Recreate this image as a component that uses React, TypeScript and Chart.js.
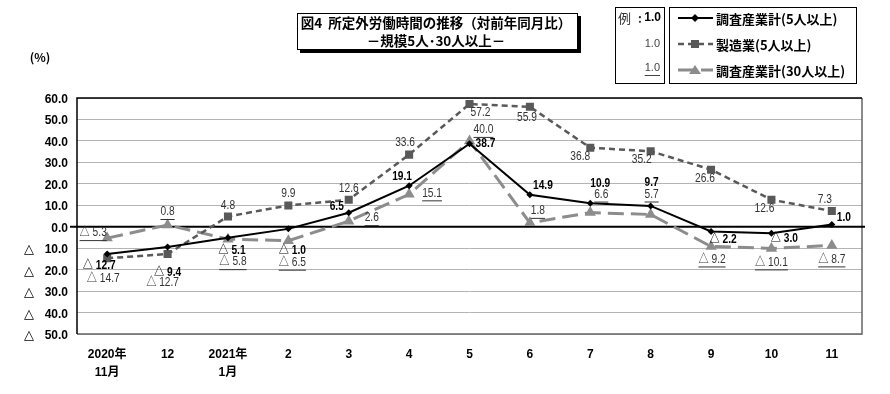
import React, { useEffect, useRef } from 'react';
import { Chart, registerables } from 'chart.js';

Chart.register(...registerables);

const categories: (string | string[])[] = [['2020年', '11月'], '12', ['2021年', '1月'], '2', '3', '4', '5', '6', '7', '8', '9', '10', '11'];
const totalOver5 = [-12.7, -9.4, -5.1, -1.0, 6.5, 19.1, 38.7, 14.9, 10.9, 9.7, -2.2, -3.0, 1.0];
const manufacturing = [-14.7, -12.7, 4.8, 9.9, 12.6, 33.6, 57.2, 55.9, 36.8, 35.2, 26.6, 12.6, 7.3];
const totalOver30 = [-5.3, 0.8, -5.8, -6.5, 2.6, 15.1, 40.0, 1.8, 6.6, 5.7, -9.2, -10.1, -8.7];
const seriesNames = ['調査産業計(5人以上)', '製造業(5人以上)', '調査産業計(30人以上)'];
const yTickValues = [60, 50, 40, 30, 20, 10, 0, -10, -20, -30, -40, -50];
const yMin = -50;
const yMax = 60;
const yStep = 10;
const titleLines = ['図4  所定外労働時間の推移（対前年同月比）', '－規模5人･30人以上－'];
const unitLabel = '(%)';

// label offsets (pixels) from each point, [dx, dy]
const offsets1 = [[-8, 12], [0, 26], [4, 13], [4, 22], [-12, -6], [-7, -9], [16, 0], [13, -9], [10, -20], [1, -23], [12, 8], [13, 6], [12, -7]];
const offsets2 = [[-4, 20], [-5, 29], [0, -11], [0, -12], [0, -11], [-4, -12], [11, 9], [-3, 11], [-10, 9], [-9, 8], [-6, 9], [-7, 9], [-7, -11]];
const offsets3 = [[-14, -5], [0, -13], [5, 23], [4, 22], [23, -3], [23, -1], [14, -11], [8, -12], [11, -18], [1, -20], [1, 13], [0, 14], [0, 14]];

const NUM_FONT = '"Liberation Sans", "Noto Sans CJK JP", sans-serif';
const JP_FONT = '"Noto Sans CJK JP", "Liberation Sans", sans-serif';
const TRI_FONT = '"DejaVu Sans", "Noto Sans CJK JP", sans-serif';

const fmt = (v: number) => (v < 0 ? '△ ' + Math.abs(v).toFixed(1) : v.toFixed(1));

const COLORS = ['#000000', '#595959', '#8c8c8c'];

function drawMarker(ctx: CanvasRenderingContext2D, kind: number, x: number, y: number) {
  ctx.save();
  ctx.fillStyle = COLORS[kind];
  ctx.beginPath();
  if (kind === 0) {
    ctx.moveTo(x, y - 4); ctx.lineTo(x + 4, y); ctx.lineTo(x, y + 4); ctx.lineTo(x - 4, y); ctx.closePath();
  } else if (kind === 1) {
    ctx.rect(x - 4, y - 4, 8, 8);
  } else {
    ctx.moveTo(x, y - 5); ctx.lineTo(x + 6, y + 4); ctx.lineTo(x - 6, y + 4); ctx.closePath();
  }
  ctx.fill();
  ctx.restore();
}

// draws text centered at (x, y), horizontally condensed
function drawCondensed(ctx: CanvasRenderingContext2D, text: string, x: number, y: number, sx: number): number {
  const w = ctx.measureText(text).width * sx;
  ctx.save();
  ctx.translate(x, y);
  ctx.scale(sx, 1);
  ctx.textAlign = 'center';
  ctx.fillText(text, 0, 0);
  ctx.restore();
  return w;
}

const overlayPlugin = {
  id: 'overlay',
  beforeDatasetsDraw(chart: any) {
    const ctx: CanvasRenderingContext2D = chart.ctx;
    const { left, right, top, bottom } = chart.chartArea;
    const yScale = chart.scales.y;
    const y0 = yScale.getPixelForValue(0);
    ctx.save();
    ctx.strokeStyle = '#666';
    ctx.lineWidth = 1.5;
    ctx.beginPath();
    ctx.moveTo(right, top); ctx.lineTo(right, bottom); ctx.lineTo(left, bottom);
    ctx.stroke();
    ctx.strokeStyle = '#000';
    ctx.beginPath();
    ctx.moveTo(left, bottom); ctx.lineTo(left, top); ctx.lineTo(right, top);
    ctx.stroke();
    ctx.lineWidth = 2;
    ctx.beginPath();
    ctx.moveTo(left - 7, y0); ctx.lineTo(right + 3, y0);
    ctx.stroke();
    ctx.restore();
  },
  afterDatasetsDraw(chart: any) {
    const ctx: CanvasRenderingContext2D = chart.ctx;
    const all = [totalOver5, manufacturing, totalOver30];
    const offs = [offsets1, offsets2, offsets3];
    ctx.save();
    ctx.textBaseline = 'middle';
    all.forEach((arr, di) => {
      const meta = chart.getDatasetMeta(di);
      arr.forEach((v, i) => {
        const pt = meta.data[i];
        const x = pt.x + offs[di][i][0];
        const y = pt.y + offs[di][i][1];
        const t = fmt(v);
        if (di === 0) {
          ctx.font = 'bold 12px ' + NUM_FONT;
          ctx.fillStyle = '#000';
        } else {
          ctx.font = '12px ' + NUM_FONT;
          ctx.fillStyle = '#333';
        }
        const w = drawCondensed(ctx, t, x, y, 0.85);
        if (di === 2) {
          ctx.strokeStyle = '#333';
          ctx.lineWidth = 1;
          ctx.beginPath();
          ctx.moveTo(x - w / 2, y + 7.5); ctx.lineTo(x + w / 2, y + 7.5);
          ctx.stroke();
        }
      });
    });
    ctx.restore();
  },
  afterDraw(chart: any) {
    const ctx: CanvasRenderingContext2D = chart.ctx;
    const yScale = chart.scales.y;
    ctx.save();

    // y tick labels
    ctx.fillStyle = '#000';
    ctx.textBaseline = 'alphabetic';
    yTickValues.forEach((v) => {
      const py = Math.round(yScale.getPixelForValue(v)) + 4.5;
      ctx.textAlign = 'right';
      ctx.font = 'bold 12px ' + NUM_FONT;
      ctx.fillText(Math.abs(v).toFixed(1), 68, py);
      if (v < 0) {
        ctx.textAlign = 'left';
        ctx.font = 'bold 13px ' + TRI_FONT;
        ctx.fillText('△', 24, py);
      }
    });

    // title box with shadow
    ctx.fillStyle = '#000';
    ctx.fillRect(300, 16, 281, 37);
    ctx.fillStyle = '#fff';
    ctx.fillRect(297, 13, 281, 37);
    ctx.strokeStyle = '#000';
    ctx.lineWidth = 1;
    ctx.strokeRect(297.5, 13.5, 280, 36);
    ctx.fillStyle = '#000';
    ctx.textAlign = 'center';
    ctx.textBaseline = 'middle';
    ctx.font = 'bold 13.5px ' + JP_FONT;
    ctx.fillText(titleLines[0], 436, 23);
    ctx.fillText(titleLines[1], 436, 41);

    // unit
    ctx.font = 'bold 12px ' + JP_FONT;
    ctx.fillText(unitLabel, 40, 57);

    // example box
    ctx.strokeRect(615.5, 7.5, 49, 76);
    ctx.textAlign = 'left';
    ctx.font = '13px ' + JP_FONT;
    ctx.fillStyle = '#333';
    ctx.fillText('例', 618, 18);
    ctx.textAlign = 'center';
    ctx.font = 'bold 12px ' + JP_FONT;
    ctx.fillText(':', 640, 18);
    ctx.textAlign = 'right';
    ctx.font = 'bold 12px ' + NUM_FONT;
    ctx.fillStyle = '#000';
    ctx.fillText('1.0', 661, 18);
    ctx.font = '11px ' + NUM_FONT;
    ctx.fillStyle = '#444';
    ctx.fillText('1.0', 660, 44);
    ctx.fillText('1.0', 660, 68);
    const w = ctx.measureText('1.0').width;
    ctx.strokeStyle = '#444';
    ctx.beginPath();
    ctx.moveTo(660 - w, 75.5); ctx.lineTo(660, 75.5);
    ctx.stroke();

    // legend box
    ctx.strokeStyle = '#000';
    ctx.strokeRect(669.5, 7.5, 187, 76);
    const rows = [18, 44, 70];
    rows.forEach((ry, i) => {
      ctx.save();
      ctx.strokeStyle = COLORS[i];
      ctx.lineWidth = i === 0 ? 2 : i === 1 ? 2.5 : 3;
      if (i === 1) ctx.setLineDash([6, 4]);
      if (i === 2) ctx.setLineDash([16, 7]);
      ctx.beginPath();
      ctx.moveTo(678, ry); ctx.lineTo(713, ry);
      ctx.stroke();
      ctx.restore();
      drawMarker(ctx, i, 695, ry);
      ctx.textAlign = 'left';
      ctx.fillStyle = '#000';
      ctx.font = 'bold 13px ' + JP_FONT;
      ctx.fillText(seriesNames[i], 716, ry + 1);
    });
    ctx.restore();
  },
};

export default function App() {
  const ref = useRef<HTMLCanvasElement | null>(null);
  useEffect(() => {
    if (!ref.current) return;
    const chart = new Chart(ref.current, {
      type: 'line',
      data: {
        labels: categories as any,
        datasets: [
          {
            label: seriesNames[0], data: totalOver5, borderColor: COLORS[0], backgroundColor: COLORS[0],
            borderWidth: 2, pointStyle: 'rectRot', pointRadius: 3.5, pointBorderWidth: 0, tension: 0,
          },
          {
            label: seriesNames[1], data: manufacturing, borderColor: COLORS[1], backgroundColor: COLORS[1],
            borderWidth: 2.5, borderDash: [6, 4], pointStyle: 'rect', pointRadius: 5.7, pointBorderWidth: 0, tension: 0,
          },
          {
            label: seriesNames[2], data: totalOver30, borderColor: COLORS[2], backgroundColor: COLORS[2],
            borderWidth: 3, borderDash: [16, 7], pointStyle: 'triangle', pointRadius: 6.5, pointBorderWidth: 0, tension: 0,
          },
        ],
      },
      options: {
        responsive: false,
        animation: false,
        layout: { padding: { top: 98, right: 28, left: 0, bottom: 0 } },
        plugins: { legend: { display: false }, tooltip: { enabled: false }, title: { display: false } },
        scales: {
          x: {
            offset: true,
            grid: { display: false, drawTicks: false, offset: true },
            border: { display: false },
            ticks: {
              font: { family: NUM_FONT, size: 12, weight: 'bold', lineHeight: 1.55 },
              color: '#000', padding: 11, maxRotation: 0, autoSkip: false,
            },
            afterFit: (s: any) => { s.height = 394 - 334; },
          },
          y: {
            min: yMin, max: yMax,
            ticks: { stepSize: yStep, display: false },
            grid: { color: '#b4b4b4', lineWidth: 1, drawTicks: false },
            border: { display: false },
            afterFit: (s: any) => { s.width = 77; },
          },
        },
      },
      plugins: [overlayPlugin],
    });
    return () => chart.destroy();
  }, []);
  return (
    <div style={{ position: 'absolute', left: 0, top: 0, width: 890, height: 394, background: '#fff' }}>
      <canvas ref={ref} width={890} height={394} style={{ display: 'block' }} />
    </div>
  );
}
